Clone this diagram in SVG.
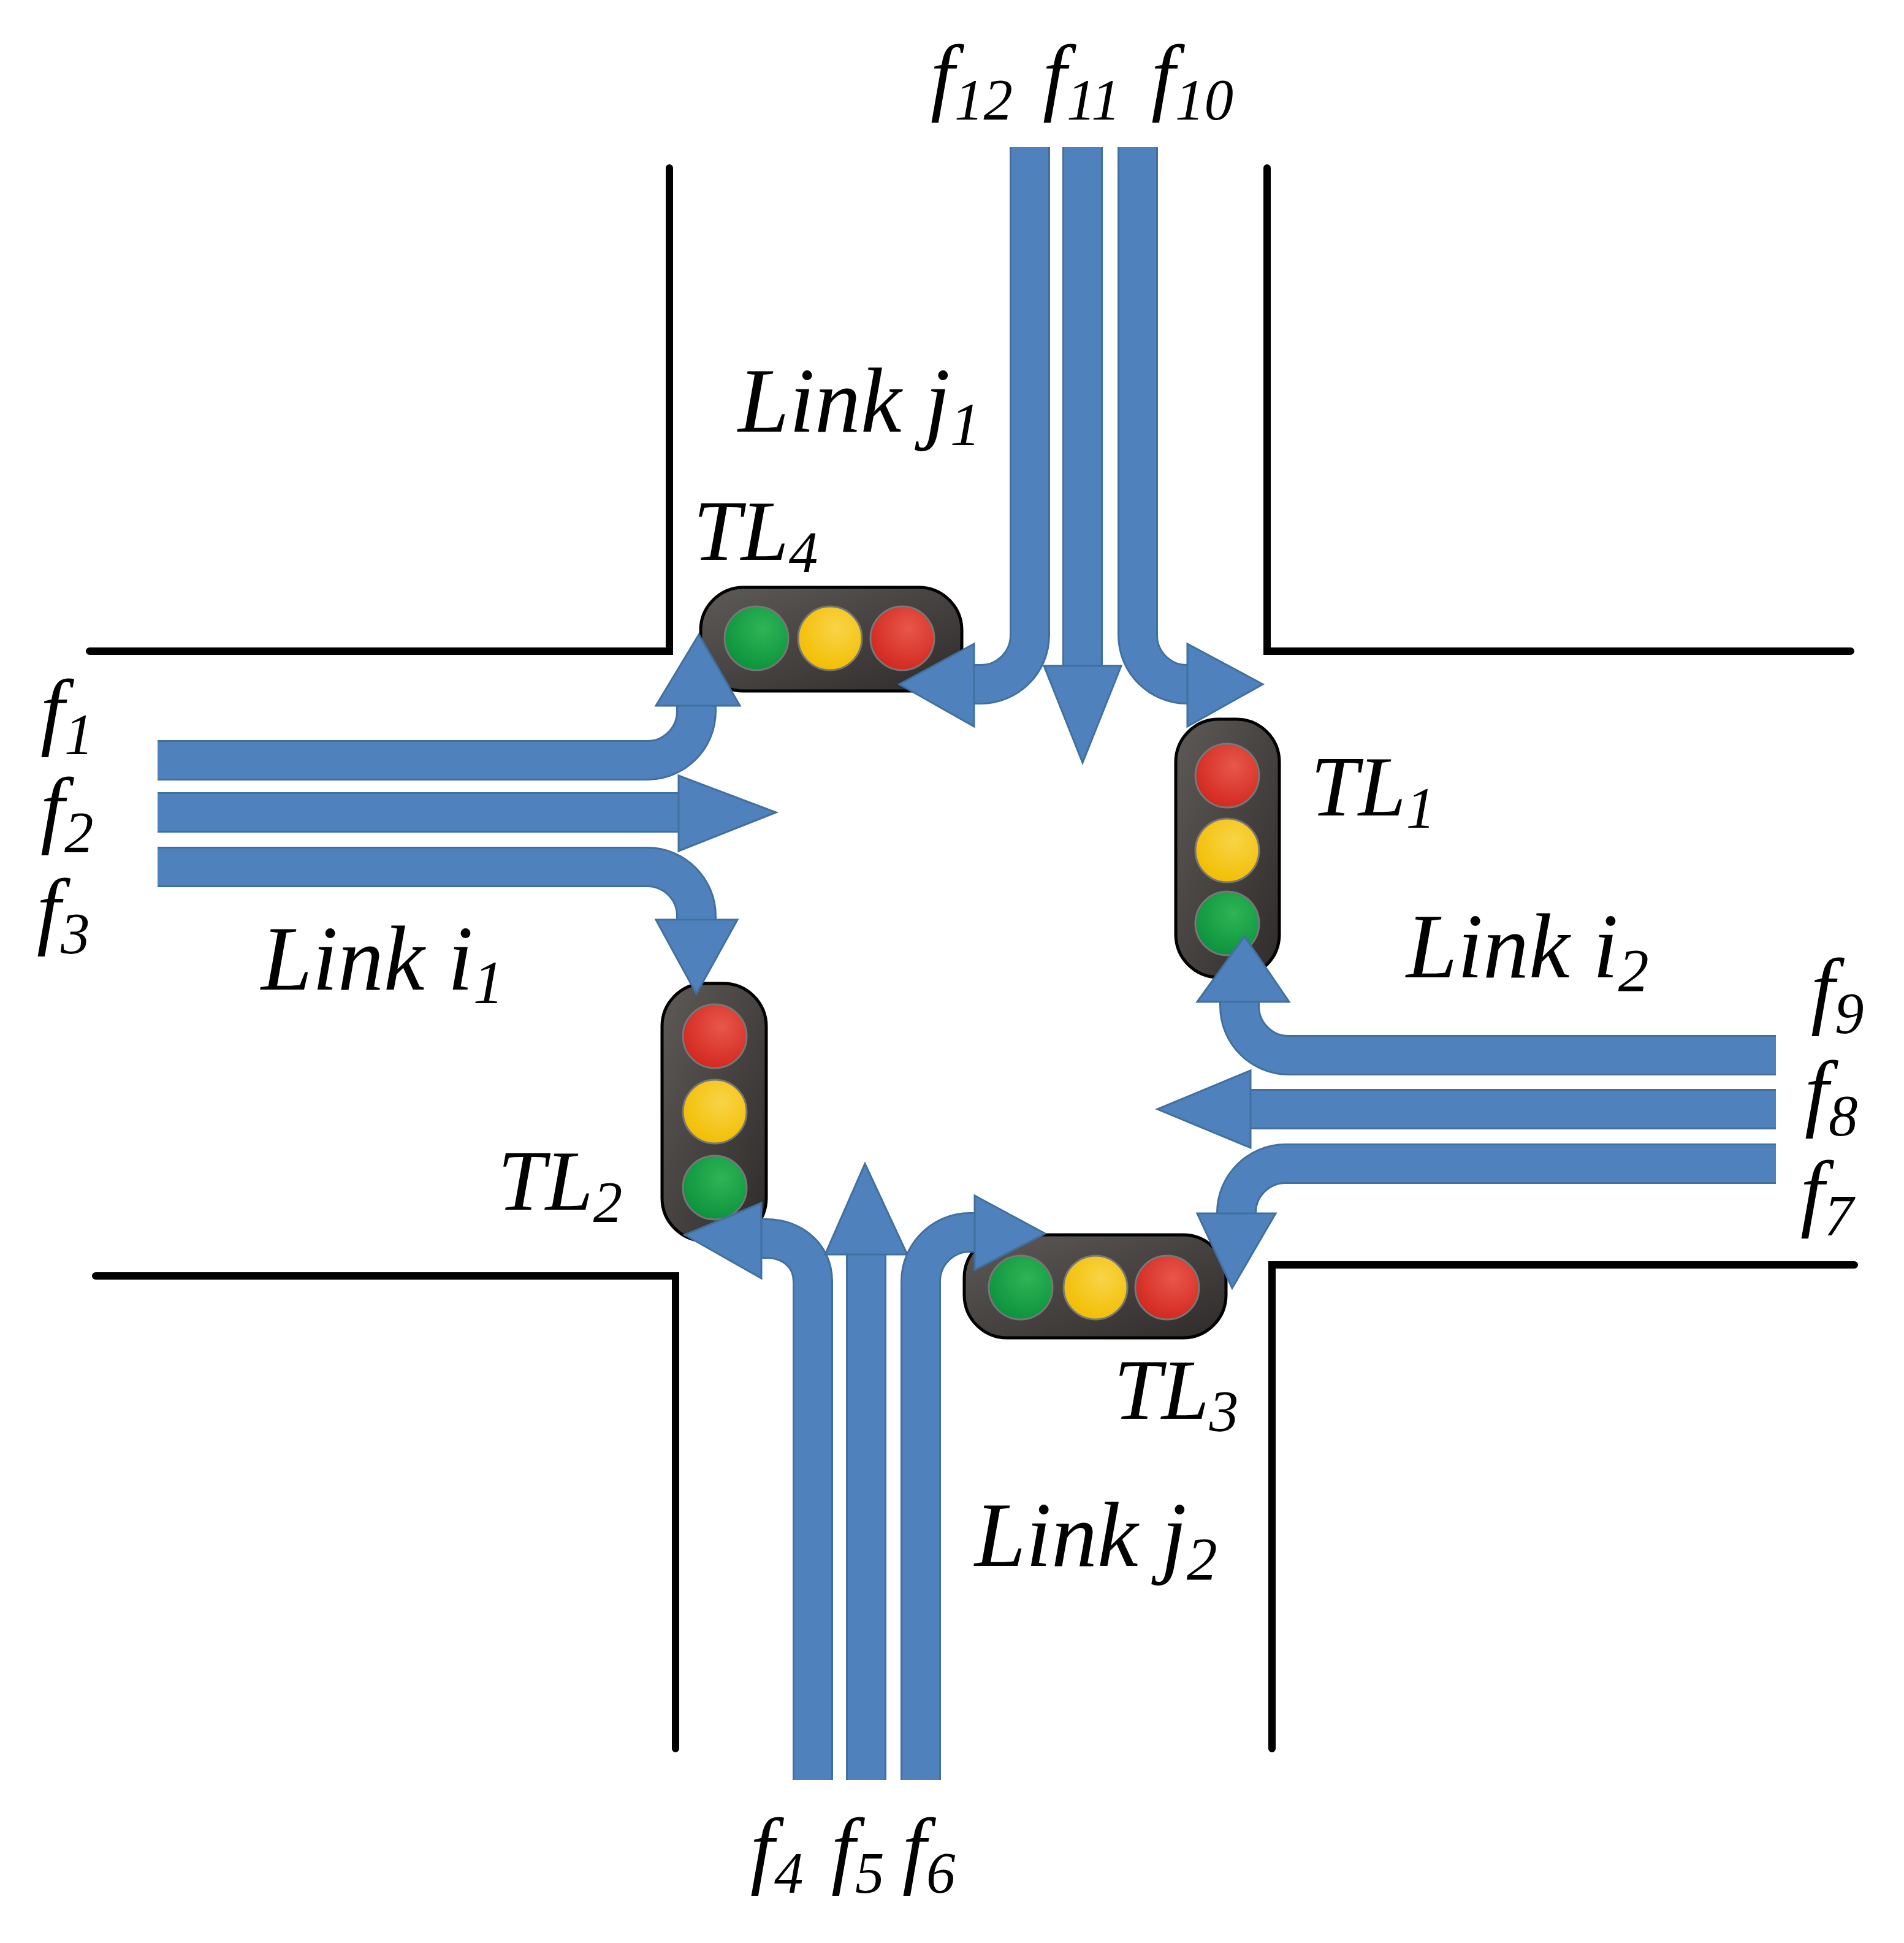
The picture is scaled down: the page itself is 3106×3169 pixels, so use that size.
<svg xmlns="http://www.w3.org/2000/svg" width="3106" height="3169" viewBox="0 0 3106 3169">
<defs>
<style>
.road{fill:none;stroke:#000;stroke-width:12;stroke-linecap:round;stroke-linejoin:miter}
.bo{fill:none;stroke:#41709f;stroke-width:66}
.bi{fill:none;stroke:#4f81bd;stroke-width:60}
.hd{fill:#4f81bd;stroke:#41709f;stroke-width:3;stroke-linejoin:miter}
.box{fill:url(#gbox);stroke:#000;stroke-width:5}
.lamp{stroke:#777;stroke-width:3}
</style>
<linearGradient id="gbox" x1="0" y1="0" x2="1" y2="1"><stop offset="0" stop-color="#5e5a58"/><stop offset="1" stop-color="#2f2b2a"/></linearGradient>
<radialGradient id="gr" cx="0.6" cy="0.35" r="0.7"><stop offset="0" stop-color="#e8574a"/><stop offset="1" stop-color="#d2261d"/></radialGradient>
<radialGradient id="gy" cx="0.6" cy="0.35" r="0.7"><stop offset="0" stop-color="#f8d447"/><stop offset="1" stop-color="#f2bd00"/></radialGradient>
<radialGradient id="gg" cx="0.6" cy="0.35" r="0.7"><stop offset="0" stop-color="#2fb556"/><stop offset="1" stop-color="#0a913c"/></radialGradient>
</defs>
<rect width="3106" height="3169" fill="#fff"/>
<g id="roads">
<polyline class="road" points="146,1062 1092,1062 1092,274"/>
<polyline class="road" points="2067,274 2067,1062 3019,1062"/>
<polyline class="road" points="156,2081 1102,2081 1102,2852"/>
<polyline class="road" points="2075,2852 2075,2063 3025,2063"/>
</g>
<g id="lights">
<g id="TL4"><rect class="box" x="1143" y="958" width="426" height="169" rx="70"/>
<circle class="lamp" cx="1234" cy="1041" r="52" fill="url(#gg)"/><circle class="lamp" cx="1354" cy="1041" r="52" fill="url(#gy)"/><circle class="lamp" cx="1472" cy="1041" r="52" fill="url(#gr)"/></g>
<g id="TL1"><rect class="box" x="1918" y="1173" width="169" height="421" rx="70"/>
<circle class="lamp" cx="2002" cy="1265" r="52" fill="url(#gr)"/><circle class="lamp" cx="2002" cy="1387" r="52" fill="url(#gy)"/><circle class="lamp" cx="2002" cy="1506" r="52" fill="url(#gg)"/></g>
<g id="TL2"><rect class="box" x="1080" y="1604" width="170" height="420" rx="70"/>
<circle class="lamp" cx="1166" cy="1690" r="52" fill="url(#gr)"/><circle class="lamp" cx="1166" cy="1813" r="52" fill="url(#gy)"/><circle class="lamp" cx="1166" cy="1937" r="52" fill="url(#gg)"/></g>
<g id="TL3"><rect class="box" x="1573" y="2014" width="427" height="168" rx="70"/>
<circle class="lamp" cx="1665" cy="2100" r="52" fill="url(#gg)"/><circle class="lamp" cx="1787" cy="2100" r="52" fill="url(#gy)"/><circle class="lamp" cx="1904" cy="2100" r="52" fill="url(#gr)"/></g>
</g>
<g id="connectors">
<path class="bo" d="M257,1240 H1056 C1100,1240 1136,1204 1136,1160 V1151"/><path class="bi" d="M257,1240 H1056 C1100,1240 1136,1204 1136,1160 V1148"/>
<polygon class="hd" points="1070,1151 1140,1035 1207,1151"/>
<path class="bo" d="M257,1325 H1110"/><path class="bi" d="M257,1325 H1110"/>
<polygon class="hd" points="1107,1265 1266,1325 1107,1388"/>
<path class="bo" d="M257,1414 H1056 C1100,1414 1136,1450 1136,1494 V1500"/><path class="bi" d="M257,1414 H1056 C1100,1414 1136,1450 1136,1494 V1503"/>
<polygon class="hd" points="1070,1500 1136,1621 1203,1500"/>
<path class="bo" d="M1680,240 V1036 C1680,1080 1644,1116 1600,1116 H1589"/><path class="bi" d="M1680,240 V1036 C1680,1080 1644,1116 1600,1116 H1586"/>
<polygon class="hd" points="1589,1050 1467,1116 1589,1185"/>
<path class="bo" d="M1766,240 V1090"/><path class="bi" d="M1766,240 V1090"/>
<polygon class="hd" points="1703,1086 1766,1244 1829,1086"/>
<path class="bo" d="M1856,240 V1036 C1856,1080 1892,1116 1936,1116 H1937"/><path class="bi" d="M1856,240 V1036 C1856,1080 1892,1116 1936,1116 H1940"/>
<polygon class="hd" points="1937,1050 2060,1116 1937,1185"/>
<path class="bo" d="M2897,1721 H2102 C2058,1721 2022,1685 2022,1641 V1634"/><path class="bi" d="M2897,1721 H2102 C2058,1721 2022,1685 2022,1641 V1631"/>
<polygon class="hd" points="1953,1634 2030,1527 2103,1634"/>
<path class="bo" d="M2897,1809 H2037"/><path class="bi" d="M2897,1809 H2037"/>
<polygon class="hd" points="2040,1746 1888,1809 2040,1872"/>
<path class="bo" d="M2897,1898 H2097 C2053,1898 2017,1934 2017,1978 V1979"/><path class="bi" d="M2897,1898 H2097 C2053,1898 2017,1934 2017,1978 V1982"/>
<polygon class="hd" points="1953,1979 2010,2101 2081,1979"/>
<path class="bo" d="M1326,2903 V2090 C1326,2046 1290,2020 1250,2020 H1242"/><path class="bi" d="M1326,2903 V2090 C1326,2046 1290,2020 1250,2020 H1239"/>
<polygon class="hd" points="1242,1962 1117,2014 1242,2085"/>
<path class="bo" d="M1413,2903 V2042"/><path class="bi" d="M1413,2903 V2042"/>
<polygon class="hd" points="1346,2046 1411,1898 1480,2046"/>
<path class="bo" d="M1502,2903 V2090 C1502,2046 1538,2010 1582,2010 H1590"/><path class="bi" d="M1502,2903 V2090 C1502,2046 1538,2010 1582,2010 H1593"/>
<polygon class="hd" points="1590,1950 1705,2012 1590,2071"/>
</g>
<g id="labels" font-family="Liberation Serif, Times New Roman, DejaVu Serif, serif" font-style="italic" fill="#000">
<text x="66" y="1205" font-size="140">f<tspan font-size="95" dy="25">1</tspan></text>
<text x="66" y="1365" font-size="140">f<tspan font-size="95" dy="25">2</tspan></text>
<text x="60" y="1530" font-size="140">f<tspan font-size="95" dy="25">3</tspan></text>
<text x="426" y="1614" font-size="150">Link i<tspan font-size="100" dy="22">1</tspan></text>
<text x="1204" y="704" font-size="150">Link j<tspan font-size="100" dy="22">1</tspan></text>
<text x="2294" y="1594" font-size="150">Link i<tspan font-size="100" dy="22">2</tspan></text>
<text x="1590" y="2554" font-size="150">Link j<tspan font-size="100" dy="22">2</tspan></text>
<text x="1131" y="913" font-size="140">TL<tspan font-size="95" dy="20">4</tspan></text>
<text x="2138" y="1330" font-size="140">TL<tspan font-size="95" dy="20">1</tspan></text>
<text x="812" y="1973" font-size="140">TL<tspan font-size="95" dy="20">2</tspan></text>
<text x="1817" y="2314" font-size="140">TL<tspan font-size="95" dy="20">3</tspan></text>
<text x="1518" y="170" font-size="140">f<tspan font-size="95" dy="25">12</tspan></text>
<text x="1701" y="170" font-size="140">f<tspan font-size="95" dy="25">11</tspan></text>
<text x="1878" y="170" font-size="140">f<tspan font-size="95" dy="25">10</tspan></text>
<text x="1224" y="3062" font-size="140">f<tspan font-size="95" dy="25">4</tspan></text>
<text x="1356" y="3062" font-size="140">f<tspan font-size="95" dy="25">5</tspan></text>
<text x="1472" y="3062" font-size="140">f<tspan font-size="95" dy="25">6</tspan></text>
<text x="2954" y="1660" font-size="140">f<tspan font-size="95" dy="25">9</tspan></text>
<text x="2944" y="1827" font-size="140">f<tspan font-size="95" dy="25">8</tspan></text>
<text x="2937" y="1990" font-size="140">f<tspan font-size="95" dy="25">7</tspan></text>
</g>
</svg>
